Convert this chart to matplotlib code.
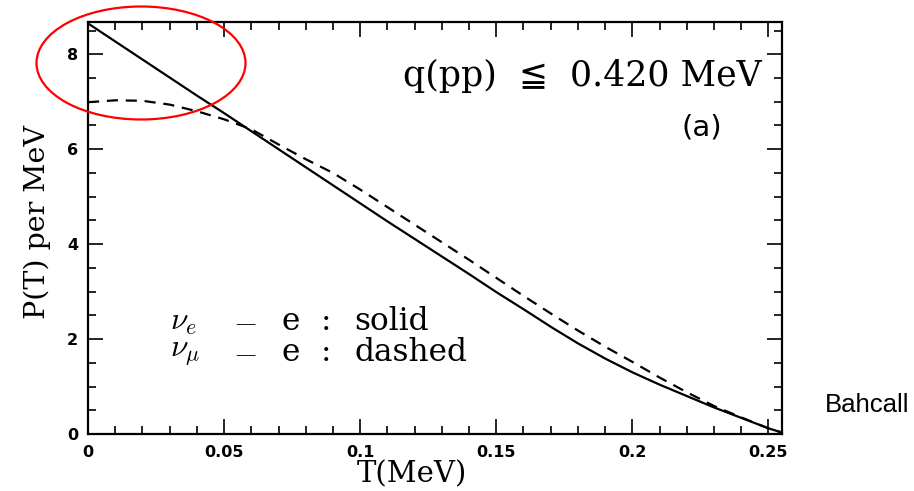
import matplotlib
matplotlib.use("Agg")
import matplotlib.pyplot as plt
from matplotlib.patches import Ellipse
from matplotlib.ticker import MultipleLocator

# recoil kinetic energy T (MeV)
T = [0.0, 0.01, 0.02, 0.03, 0.04, 0.05, 0.06, 0.07, 0.08, 0.09, 0.10, 0.11, 0.12,
     0.13, 0.14, 0.15, 0.16, 0.17, 0.18, 0.19, 0.20, 0.21, 0.22, 0.23, 0.24, 0.25, 0.255]

# nu_e - e scattering spectrum (solid)
p_nue = [8.65, 8.27, 7.89, 7.51, 7.13, 6.76, 6.38, 6.00, 5.62, 5.24, 4.86, 4.48, 4.11,
         3.74, 3.37, 2.99, 2.63, 2.26, 1.91, 1.59, 1.30, 1.04, 0.80, 0.56, 0.34, 0.12, 0.03]

# nu_mu - e scattering spectrum (dashed)
p_numu = [6.99, 7.03, 7.02, 6.94, 6.80, 6.63, 6.42, 6.10, 5.79, 5.50, 5.15, 4.78, 4.41,
          4.04, 3.67, 3.29, 2.91, 2.54, 2.18, 1.84, 1.52, 1.19, 0.88, 0.59, 0.35, 0.12, 0.03]

xticks = [0, 0.05, 0.1, 0.15, 0.2, 0.25]
xtick_labels = ["0", "0.05", "0.1", "0.15", "0.2", "0.25"]
yticks = [0, 2, 4, 6, 8]

# key rows: (neutrino, line style word)
key_rows = [(r"$\nu_e$", "solid"), (r"$\nu_\mu$", "dashed")]

plt.rcParams["mathtext.fontset"] = "cm"
serif = ["DejaVu Serif", "DejaVu Sans"]

fig = plt.figure(figsize=(9.14, 4.91), dpi=100)
ax = fig.add_axes([0.0963, 0.1161, 0.7593, 0.8391])

ax.plot(T, p_nue, color="black", lw=1.6)
ax.plot(T, p_numu, color="black", lw=1.6, linestyle=(0, (5, 3.5)))

ax.set_xlim(0, 0.255)
ax.set_ylim(0, 8.68)

ax.set_xticks(xticks)
ax.set_xticklabels(xtick_labels)
ax.set_yticks(yticks)
ax.xaxis.set_minor_locator(MultipleLocator(0.01))
ax.yaxis.set_minor_locator(MultipleLocator(0.5))
ax.tick_params(which="both", direction="in", top=True, right=True, width=1.2, colors="black")
ax.tick_params(which="major", length=11, labelsize=11.5)
ax.tick_params(axis="x", which="major", pad=8)
ax.tick_params(axis="y", which="major", pad=7)
ax.tick_params(which="minor", length=5.5)
for lab in ax.get_xticklabels() + ax.get_yticklabels():
    lab.set_fontweight("bold")
for sp in ax.spines.values():
    sp.set_linewidth(1.6)

ax.set_xlabel("T(MeV)", family=serif, fontsize=21, labelpad=0)
ax.xaxis.label.set_x(0.466)
ax.set_ylabel("P(T) per MeV", family=serif, fontsize=20.5, labelpad=12)
ax.yaxis.label.set_y(0.515)

ax.text(0.971, 0.869, "q(pp)  \u2266  0.420 MeV", transform=ax.transAxes,
        ha="right", va="center", family=serif, fontsize=25)
ax.text(0.884, 0.745, "(a)", transform=ax.transAxes,
        ha="center", va="center", family="DejaVu Sans", fontsize=21)

# line key, each piece set at its own column
cols = [0.118, 0.2086, 0.279, 0.336, 0.384]
for (nu, word), yrow in zip(key_rows, [0.274, 0.197]):
    for xc, piece in zip(cols, [nu, r"$-$", "e", ":", word]):
        ax.text(xc, yrow, piece, transform=ax.transAxes, ha="left",
                va="center", family=serif, fontsize=22.5)

fig.text(0.902, 0.175, "Bahcall", family="Liberation Sans", fontsize=18.5,
         ha="left", va="center")

# red highlight around the low-energy end
fig.add_artist(Ellipse((141 / 914, 1 - 63 / 491), 209 / 914, 113 / 491,
                       transform=fig.transFigure, fill=False,
                       edgecolor="red", lw=1.6))

fig.savefig("out.png", dpi=100)
